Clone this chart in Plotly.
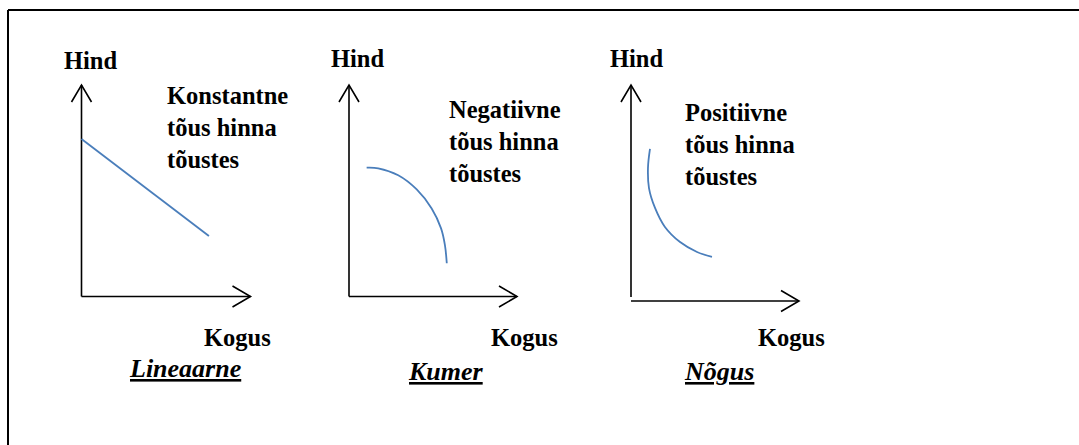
import plotly.graph_objects as go

W, H = 1079, 445

# --------------------------
# Curve data (axis units, each arrow runs 0..10)
# --------------------------
lin_kogus = [0.0, 7.54]
lin_hind = [7.45, 2.86]

kumer_kogus = [1.05, 1.74, 2.93, 4.03, 4.92, 5.48, 5.71, 5.82]
kumer_hind = [6.09, 6.06, 5.73, 5.06, 4.16, 3.22, 2.43, 1.57]

nogus_kogus = [1.13, 1.01, 1.07, 1.43, 2.02, 2.92, 3.93, 4.82]
nogus_hind = [7.04, 6.16, 5.23, 4.31, 3.43, 2.73, 2.27, 2.04]

titles = ["Lineaarne", "Kumer", "Nõgus"]
notes = ["Konstantne<br>tõus hinna<br>tõustes",
         "Negatiivne<br>tõus hinna<br>tõustes",
         "Positiivne<br>tõus hinna<br>tõustes"]
x_label = "Kogus"
y_label = "Hind"

curves = [(lin_kogus, lin_hind), (kumer_kogus, kumer_hind), (nogus_kogus, nogus_hind)]

# panel geometry in pixels: origin x, x-axis y, x tip, y tip, y-axis bottom
panels = [
    dict(ox=81.5, oy=296.5, tx=250.5, ty=85, ybot=296.5),
    dict(ox=349, oy=296.5, tx=517, ty=85, ybot=296.5),
    dict(ox=631, oy=301, tx=799, ty=85, ybot=297),
]
# text anchors in pixels
hind_pos = [(62, 60), (329, 58), (608, 58)]
note_pos = [(165, 127), (447, 141), (683, 144)]
kogus_pos = [(202, 337), (489, 337), (756, 337)]
title_pos = [(127, 368), (406, 371), (682, 371)]

FONT = "Liberation Serif"
SIZE = 24.5
TITLE_SIZE = 26
BLUE = "#4a7ebb"

fig = go.Figure()
layout_axes = {}

for i, (p, (cx, cy)) in enumerate(zip(panels, curves)):
    n = "" if i == 0 else str(i + 1)
    sx = (p["tx"] - p["ox"]) / 10.0
    sy = (p["oy"] - p["ty"]) / 10.0
    xd = [(p["ox"] - sx) / W, (p["tx"] + sx) / W]
    yd = [1 - (p["oy"] + sy) / H, 1 - (p["ty"] - sy) / H]
    layout_axes["xaxis" + n] = dict(domain=xd, range=[-1, 11], visible=False, anchor="y" + n)
    layout_axes["yaxis" + n] = dict(domain=yd, range=[-1, 11], visible=False, anchor="x" + n)
    xa, ya = "x" + n, "y" + n
    ax_line = dict(color="black", width=1.6)
    ybot = (p["oy"] - p["ybot"]) / sy
    # axes with arrowheads
    fig.add_trace(go.Scatter(x=[0, 10], y=[0, 0], mode="lines", line=ax_line,
                             xaxis=xa, yaxis=ya, hoverinfo="skip"))
    fig.add_trace(go.Scatter(x=[10 - 18 / sx, 10, 10 - 18 / sx], y=[10.5 / sy, 0, -10.5 / sy],
                             mode="lines", line=ax_line, xaxis=xa, yaxis=ya, hoverinfo="skip"))
    fig.add_trace(go.Scatter(x=[0, 0], y=[ybot, 10], mode="lines", line=ax_line,
                             xaxis=xa, yaxis=ya, hoverinfo="skip"))
    fig.add_trace(go.Scatter(x=[-10 / sx, 0, 10 / sx], y=[10 - 17 / sy, 10, 10 - 17 / sy],
                             mode="lines", line=ax_line, xaxis=xa, yaxis=ya, hoverinfo="skip"))
    # the curve
    fig.add_trace(go.Scatter(x=cx, y=cy, mode="lines",
                             line=dict(color=BLUE, width=1.8, shape="spline", smoothing=1),
                             xaxis=xa, yaxis=ya, hoverinfo="skip"))


def label(text, pos, size=SIZE):
    fig.add_annotation(text=text, x=pos[0] / W, y=1 - pos[1] / H, xref="paper", yref="paper",
                       xanchor="left", yanchor="middle", align="left", showarrow=False,
                       font=dict(family=FONT, size=size, color="black"))


for i in range(3):
    label("<b>" + y_label + "</b>", hind_pos[i])
    label("<b>" + notes[i] + "</b>", note_pos[i])
    label("<b>" + x_label + "</b>", kogus_pos[i])
    label("<b><i><u>" + titles[i] + "</u></i></b>", title_pos[i], TITLE_SIZE)

# frame (top and left edges)
frame = dict(type="line", xref="paper", yref="paper", line=dict(color="black", width=2))
fig.add_shape(x0=8 / W, x1=1, y0=1 - 10 / H, y1=1 - 10 / H, **frame)
fig.add_shape(x0=8 / W, x1=8 / W, y0=1 - 10 / H, y1=0, **frame)

fig.update_layout(width=W, height=H, margin=dict(l=0, r=0, t=0, b=0),
                  paper_bgcolor="white", plot_bgcolor="white", showlegend=False,
                  **layout_axes)

fig.write_html("out.html", config={"displayModeBar": False},
               post_script="document.body.style.margin='0';document.body.style.overflow='hidden';")
